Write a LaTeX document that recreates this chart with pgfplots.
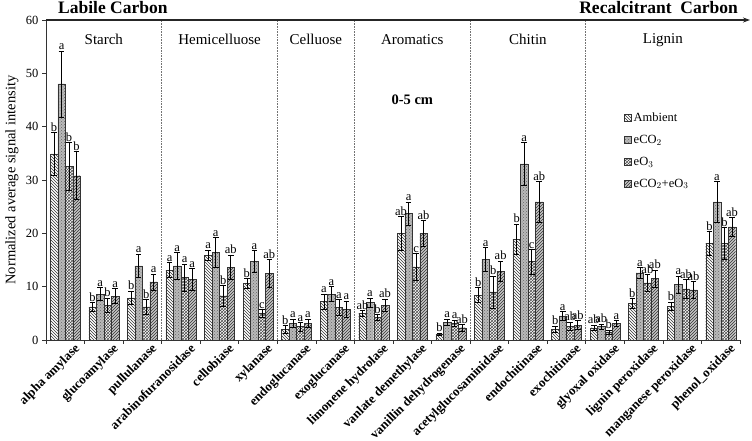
\documentclass[border=0pt]{standalone}
\usepackage{pgfplots}
\pgfplotsset{compat=1.18}
\usepackage{pgfplotstable}
\usepackage{fontspec}
\setmainfont{Liberation Serif}
\usetikzlibrary{patterns,arrows.meta}

\pgfplotstableread{
a    ae   b    be   c    ce   d    de   la lb lc ld
34.9 4.0  48.0 6.2  32.5 4.5  30.8 4.5  b  a  b  b
6.2  0.8  8.6  1.2  6.5  1.4  8.2  1.4  b  a  b  a
7.9  1.3  13.9 2.2  6.2  1.4  10.9 1.5  b  a  b  a
13.1 1.4  13.9 2.5  11.7 2.5  11.4 2.0  a  a  a  a
15.9 1.0  16.4 2.8  8.3  1.9  13.6 2.3  a  a  b  ab
10.6 0.9  14.7 2.1  5.0  0.7  12.5 2.6  b  a  c  ab
2.0  0.7  3.1  0.8  2.5  0.8  3.1  0.8  b  a  a  a
7.2  1.4  8.6  1.4  6.1  1.5  5.8  1.5  a  a  a  a
5.0  0.5  7.0  0.9  4.2  0.6  6.5  1.2  ab a  b  ab
20.0 3.1  23.7 2.2  13.7 2.5  20.0 2.4  ab a  c  ab
1.1  0.2  3.3  0.6  3.1  0.6  2.3  0.6  b  a  a  ab
8.4  1.4  15.1 2.2  9.0  3.0  12.9 1.9  b  a  b  ab
18.9 2.8  33.0 4.0  14.7 2.3  25.9 3.8  b  a  c  ab
2.0  0.6  4.5  0.8  2.6  0.8  2.8  0.8  b  a  ab ab
2.3  0.5  2.5  0.5  1.5  0.4  3.1  0.5  ab ab b  a
6.9  0.9  12.6 1.0  10.7 1.6  11.5 1.6  b  a  ab ab
6.3  0.8  10.4 1.6  9.6  1.7  9.4  1.6  b  a  ab ab
18.1 2.2  25.9 3.8  18.1 3.0  21.2 1.8  b  a  b  ab
}\datatable

\tikzset{
  sAmb/.style={draw=black!80, line width=0.4pt, fill=white, postaction={pattern=north west lines, pattern color=black!80}},
  sCO/.style={draw=black!80, line width=0.4pt, fill=gray!55, postaction={pattern=crosshatch dots, pattern color=black!60}},
  sO/.style={draw=black!80, line width=0.4pt, fill=white, postaction={pattern=crosshatch, pattern color=black!70}},
  sBoth/.style={draw=black!80, line width=0.4pt, fill=gray!45, postaction={pattern=north east lines, pattern color=black!80}},
}

\pgfplotsset{
  mybar/.style={ybar, bar width=7.5pt, bar shift=#1},
  errs/.style={draw=none, no markers, forget plot,
    error bars/y dir=both, error bars/y explicit,
    error bars/error bar style={draw=black, solid, line width=0.6pt},
    error bars/error mark options={draw=black, rotate=90, mark size=2.8pt, line width=0.6pt, solid}},
  letters/.style={draw=none, no markers, forget plot,
    point meta=explicit symbolic,
    nodes near coords,
    every node near coord/.append style={font=\fontsize{12.5}{12.5}\selectfont, anchor=south, inner sep=1pt, black}},
}

\begin{document}
\begin{tikzpicture}
\begin{axis}[
  scale only axis,
  width=694pt, height=320pt,
  xmin=-0.5, xmax=17.5,
  ymin=0, ymax=60,
  clip=false,
  axis x line*=bottom,
  axis y line*=left,
  axis line style={-, line width=0.8pt, black!80},
  ytick={0,10,...,60},
  yticklabel style={font=\fontsize{12.5}{12.5}\selectfont},
  /pgf/number format/assume math mode=true,
  tick align=outside,
  major tick length=4pt,
  minor tick length=4pt,
  tick style={line width=0.7pt, black!80},
  xtick={0,...,17},
  x tick style={draw=none},
  minor xtick={-0.5,0.5,...,17.5},
  minor x tick style={draw=black!80, line width=0.7pt},
  xticklabels={alpha amylase,glucoamylase,pullulanase,arabinofuranosidase,cellobiase,xylanase,endoglucanase,exoglucanase,limonene hydrolase,vanlate demethylase,vanillin dehydrogenase,acetylglucosaminidase,endochitinase,exochitinase,glyoxal oxidase,lignin peroxidase,manganese peroxidase,phenol\_oxidase},
  xticklabel style={font=\bfseries\fontsize{13}{13}\selectfont, rotate=45, anchor=north east, inner sep=1pt, yshift=-4pt, xshift=8pt},
  legend style={at={(0.833,0.716)}, anchor=north west, draw=none, fill=none,
    font=\fontsize{12.5}{12.5}\selectfont, row sep=8pt, inner sep=0pt,
    legend cell align=left},
  legend image code/.code={\draw[#1] (0pt,-3.5pt) rectangle (7pt,3.5pt);},
]
% separators
\draw[densely dotted, black!55, line width=0.6pt] (axis cs:2.5,0) -- (axis cs:2.5,60);
\draw[densely dotted, black!55, line width=0.6pt] (axis cs:5.5,0) -- (axis cs:5.5,60);
\draw[densely dotted, black!55, line width=0.6pt] (axis cs:7.5,0) -- (axis cs:7.5,60);
\draw[densely dotted, black!55, line width=0.6pt] (axis cs:10.5,0) -- (axis cs:10.5,60);
\draw[densely dotted, black!55, line width=0.6pt] (axis cs:13.5,0) -- (axis cs:13.5,60);

\addplot[mybar=-11.25pt, sAmb] table[x expr=\coordindex, y=a]{\datatable};
\addlegendentry{Ambient}
\addplot[mybar=-3.75pt, sCO] table[x expr=\coordindex, y=b]{\datatable};
\addlegendentry{eCO$_2$}
\addplot[mybar=3.75pt, sO] table[x expr=\coordindex, y=c]{\datatable};
\addlegendentry{eO$_3$}
\addplot[mybar=11.25pt, sBoth] table[x expr=\coordindex, y=d]{\datatable};
\addlegendentry{eCO$_2$+eO$_3$}

\addplot[errs] table[x expr=\coordindex-0.2918, y=a, y error=ae]{\datatable};
\addplot[errs] table[x expr=\coordindex-0.0973, y=b, y error=be]{\datatable};
\addplot[errs] table[x expr=\coordindex+0.0973, y=c, y error=ce]{\datatable};
\addplot[errs] table[x expr=\coordindex+0.2918, y=d, y error=de]{\datatable};

\addplot[letters] table[x expr=\coordindex-0.2918, y expr=\thisrow{a}+\thisrow{ae}, meta=la]{\datatable};
\addplot[letters] table[x expr=\coordindex-0.0973, y expr=\thisrow{b}+\thisrow{be}, meta=lb]{\datatable};
\addplot[letters] table[x expr=\coordindex+0.0973, y expr=\thisrow{c}+\thisrow{ce}, meta=lc]{\datatable};
\addplot[letters] table[x expr=\coordindex+0.2918, y expr=\thisrow{d}+\thisrow{de}, meta=ld]{\datatable};

% y label
\node[rotate=90, font=\fontsize{14.5}{14.5}\selectfont] at ([xshift=-34pt]rel axis cs:0,0.5) {Normalized average signal intensity};
% top arrow
\draw[line width=1pt, black!85, -{Stealth[length=7pt,width=5pt]}] (axis cs:-0.5,60) -- ([xshift=10pt]axis cs:17.5,60);
\node[anchor=south west, font=\bfseries\fontsize{17.5}{17.5}\selectfont, inner sep=0pt] at ([xshift=12pt,yshift=6pt]axis cs:-0.5,60) {Labile Carbon};
\node[anchor=south east, font=\bfseries\fontsize{17.5}{17.5}\selectfont, inner sep=0pt] at ([xshift=-2pt,yshift=6pt]axis cs:17.5,60) {Recalcitrant\ \ Carbon};
% group labels
\node[font=\fontsize{15}{15}\selectfont] at (axis cs:1,56.3) {Starch};
\node[font=\fontsize{15}{15}\selectfont] at (axis cs:4,56.3) {Hemicelluose};
\node[font=\fontsize{15}{15}\selectfont] at (axis cs:6.5,56.3) {Celluose};
\node[font=\fontsize{15}{15}\selectfont] at (axis cs:9,56.3) {Aromatics};
\node[font=\fontsize{15}{15}\selectfont] at (axis cs:12,56.3) {Chitin};
\node[font=\fontsize{15}{15}\selectfont] at (axis cs:15.5,56.3) {Lignin};
\node[font=\bfseries\fontsize{14.5}{14.5}\selectfont] at (axis cs:9,45) {0-5 cm};
\end{axis}
\pgfresetboundingbox
\path[use as bounding box] ([xshift=-46pt,yshift=-101pt]current axis.south west) rectangle ([xshift=12pt,yshift=20pt]current axis.north east);
\end{tikzpicture}
\end{document}
